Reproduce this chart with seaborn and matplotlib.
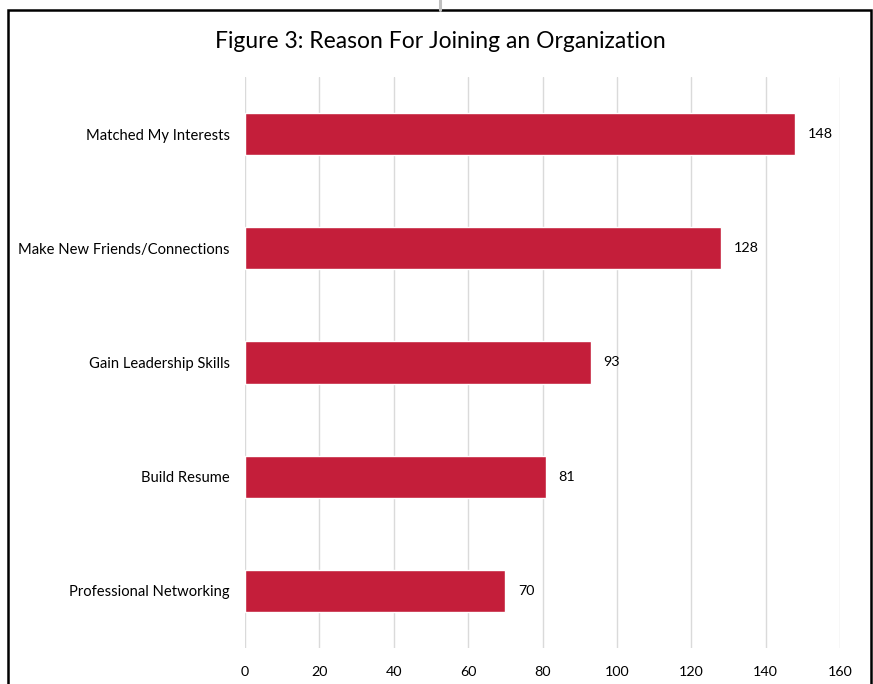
import matplotlib
matplotlib.use("Agg")
import matplotlib.pyplot as plt
import matplotlib.patches as mpatches
import matplotlib.lines as mlines
import seaborn as sns
import pandas as pd

reasons = [
    "Matched My Interests",
    "Make New Friends/Connections",
    "Gain Leadership Skills",
    "Build Resume",
    "Professional Networking",
]
counts = [148, 128, 93, 81, 70]
x_ticks = [0, 20, 40, 60, 80, 100, 120, 140, 160]

sns.set_theme(style="white")
plt.rcParams["font.family"] = ["Lato", "DejaVu Sans"]

df = pd.DataFrame({"reason": reasons, "count": counts})

fig = plt.figure(figsize=(8.73, 6.84), dpi=100)
ax = fig.add_axes([245 / 873, 1 - 648 / 684, (840 - 245) / 873, (648 - 77) / 684])

sns.barplot(data=df, x="count", y="reason", order=reasons, color="#C41E3A",
            width=0.37, saturation=1, ax=ax, zorder=3)

ax.set_xlim(0, 160)
ax.set_xticks(x_ticks)
ax.set_xticklabels([str(t) for t in x_ticks])
ax.xaxis.grid(True, color="#DADADA", linewidth=1.0, zorder=0)
ax.yaxis.grid(False)
ax.set_axisbelow(True)
for s in ax.spines.values():
    s.set_visible(False)
ax.tick_params(axis="x", length=0, pad=13, labelsize=10.3, colors="#000000")
ax.tick_params(axis="y", length=0, pad=11, labelsize=10.6, colors="#000000")
ax.set_xlabel("")
ax.set_ylabel("")

for cont in ax.containers:
    ax.bar_label(cont, labels=[str(v) for v in counts], padding=9,
                 fontsize=10.3, color="#000000")

fig.text(440 / 873, 1 - 42 / 684, "Figure 3: Reason For Joining an Organization",
         ha="center", va="center", fontsize=16.5, color="#000000")

# outer frame around the chart area
frame = mpatches.Rectangle((8 / 873, -0.05), (871 - 8) / 873, 1 - 10 / 684 + 0.05,
                           transform=fig.transFigure, fill=False,
                           edgecolor="#000000", linewidth=1.8, clip_on=False)
fig.add_artist(frame)
fig.add_artist(mlines.Line2D([440 / 873, 440 / 873], [1 - 10 / 684, 1.0],
                             transform=fig.transFigure, color="#C0C0C0",
                             linewidth=2.2))

fig.savefig("out.png", dpi=100)
